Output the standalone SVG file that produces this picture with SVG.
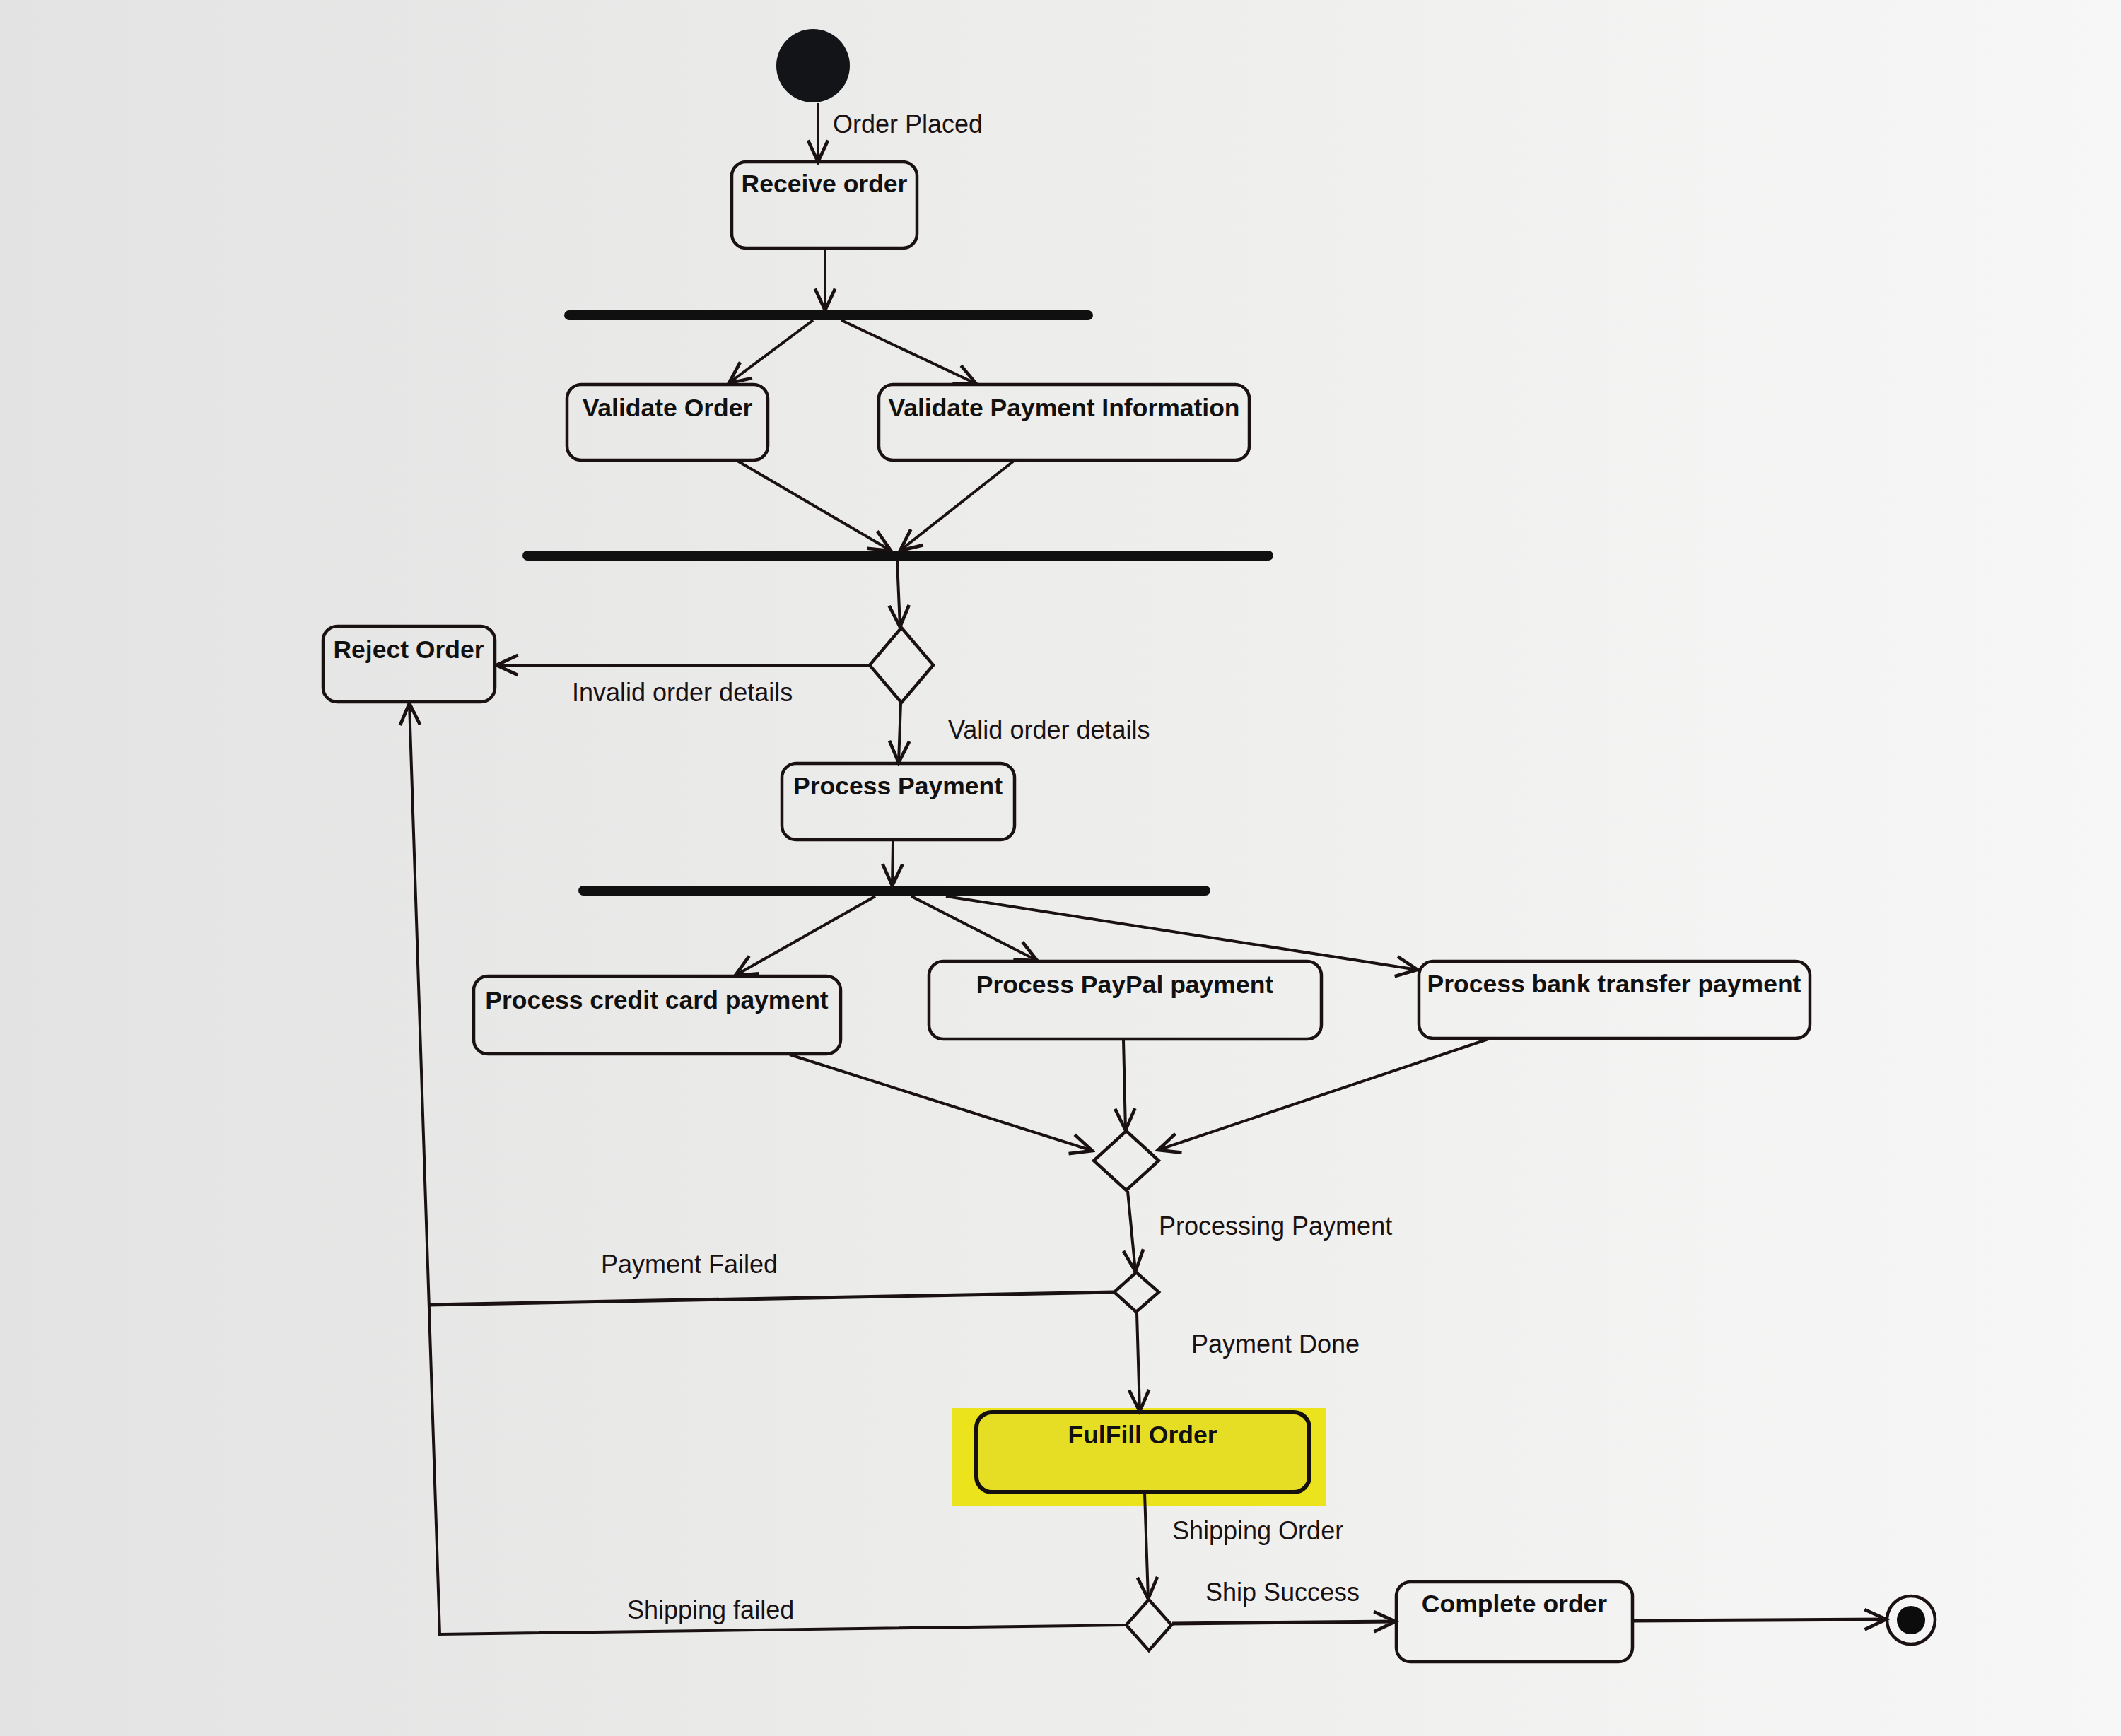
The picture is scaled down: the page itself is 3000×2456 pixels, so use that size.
<svg xmlns="http://www.w3.org/2000/svg" width="3000" height="2456" viewBox="0 0 3000 2456">
<defs>
  <linearGradient id="bg" x1="0" y1="0" x2="1" y2="0">
    <stop offset="0" stop-color="#e4e3e3"/>
    <stop offset="0.5" stop-color="#ededec"/>
    <stop offset="1" stop-color="#f7f7f7"/>
  </linearGradient>
  <marker id="arr" markerUnits="userSpaceOnUse" markerWidth="40" markerHeight="40" viewBox="-2 -2 34 34" refX="28" refY="14" orient="auto">
    <path d="M2,2 L28,14 L2,26" fill="none" stroke="#1a1212" stroke-width="4" stroke-linejoin="miter"/>
  </marker>
  <style>
    .node rect { fill: none; stroke: #1a1212; stroke-width: 4.5; }
    .title { font-family: "Liberation Sans", Arial, sans-serif; font-weight: bold; font-size: 35.5px; fill: #111; text-anchor: middle; }
    .lbl { font-family: "Liberation Sans", Arial, sans-serif; font-size: 36px; fill: #1a1212; }
    .bar { stroke: #101010; stroke-width: 14; stroke-linecap: round; }
    .edge { fill: none; stroke: #1a1212; stroke-width: 4; }
    .edge.arrow { marker-end: url(#arr); }
    .thick { stroke-width: 5; }
    .diamond { fill: none; stroke: #1a1212; stroke-width: 4.5; stroke-linejoin: miter; }
  </style>
</defs>
<rect x="0" y="0" width="3000" height="2456" fill="url(#bg)"/>

<g id="start">
  <circle cx="1150" cy="93" r="52" fill="#121418"/>
</g>

<g id="receive-order" class="node">
  <rect x="1035" y="229" width="262" height="122" rx="20"/>
  <text class="title" x="1166" y="272">Receive order</text>
</g>

<g id="fork1"><line class="bar" x1="805" y1="446" x2="1539" y2="446"/></g>

<g id="validate-order" class="node">
  <rect x="802" y="544" width="284" height="107" rx="20"/>
  <text class="title" x="944" y="589">Validate Order</text>
</g>

<g id="validate-payment" class="node">
  <rect x="1243" y="544" width="524" height="107" rx="20"/>
  <text class="title" x="1505" y="589">Validate Payment Information</text>
</g>

<g id="join1"><line class="bar" x1="746" y1="786" x2="1794" y2="786"/></g>

<g id="decision-valid">
  <polygon class="diamond" points="1275,888 1320,941 1275,994 1230,941"/>
</g>

<g id="reject-order" class="node">
  <rect x="457" y="886" width="243" height="107" rx="20"/>
  <text class="title" x="578" y="931">Reject Order</text>
</g>

<g id="process-payment" class="node">
  <rect x="1106" y="1080" width="329" height="108" rx="20"/>
  <text class="title" x="1270" y="1124">Process Payment</text>
</g>

<g id="fork2"><line class="bar" x1="825" y1="1260" x2="1705" y2="1260"/></g>

<g id="credit-card" class="node">
  <rect x="670" y="1381" width="519" height="110" rx="20"/>
  <text class="title" x="929" y="1427">Process credit card payment</text>
</g>

<g id="paypal" class="node">
  <rect x="1314" y="1360" width="555" height="110" rx="20"/>
  <text class="title" x="1591" y="1405">Process PayPal payment</text>
</g>

<g id="bank-transfer" class="node">
  <rect x="2007" y="1360" width="553" height="109" rx="20"/>
  <text class="title" x="2283" y="1404">Process bank transfer payment</text>
</g>

<g id="merge-payment">
  <polygon class="diamond" points="1593,1600 1639,1642 1593,1684 1547,1642"/>
</g>

<g id="decision-payment">
  <polygon class="diamond" points="1607,1800 1639,1828 1607,1856 1576,1828"/>
</g>

<g id="fulfill-order">
  <rect x="1346" y="1992" width="530" height="139" fill="#ebe41c"/>
  <rect x="1381" y="1998" width="471" height="113" rx="22" fill="#e6de24" stroke="#141010" stroke-width="6"/>
  <text class="title" x="1616" y="2042">FulFill Order</text>
</g>

<g id="decision-ship">
  <polygon class="diamond" points="1625,2263 1657,2299 1625,2335 1593,2299"/>
</g>

<g id="complete-order" class="node">
  <rect x="1975" y="2238" width="334" height="113" rx="20"/>
  <text class="title" x="2142" y="2281">Complete order</text>
</g>

<g id="end">
  <circle cx="2703" cy="2292" r="34" fill="none" stroke="#1a1212" stroke-width="4.5"/>
  <circle cx="2703" cy="2292" r="20" fill="#0c0c0c"/>
</g>

<g id="connectors">
  <line class="edge arrow" x1="1157" y1="146" x2="1157" y2="229"/>
  <line class="edge arrow" x1="1167" y1="352" x2="1167" y2="439"/>
  <line class="edge arrow" x1="1150" y1="453" x2="1031" y2="542"/>
  <line class="edge arrow" x1="1190" y1="453" x2="1381" y2="543"/>
  <line class="edge arrow" x1="1043" y1="652" x2="1260" y2="779"/>
  <line class="edge arrow" x1="1434" y1="652" x2="1273" y2="779"/>
  <line class="edge arrow" x1="1269" y1="793" x2="1273" y2="887"/>
  <line class="edge arrow" x1="1229" y1="941" x2="702" y2="941"/>
  <line class="edge arrow" x1="1274" y1="995" x2="1271" y2="1079"/>
  <line class="edge arrow" x1="1263" y1="1189" x2="1262" y2="1253"/>
  <line class="edge arrow" x1="1238" y1="1268" x2="1040" y2="1380"/>
  <line class="edge arrow" x1="1289" y1="1268" x2="1467" y2="1359"/>
  <line class="edge arrow" x1="1338" y1="1268" x2="2005" y2="1372"/>
  <line class="edge arrow" x1="1117" y1="1492" x2="1545" y2="1628"/>
  <line class="edge arrow" x1="1589" y1="1471" x2="1592" y2="1599"/>
  <line class="edge arrow" x1="2105" y1="1470" x2="1638" y2="1627"/>
  <line class="edge arrow" x1="1595" y1="1685" x2="1606" y2="1799"/>
  <line class="edge thick" x1="1575" y1="1828" x2="606" y2="1846"/>
  <line class="edge arrow" x1="1608" y1="1857" x2="1612" y2="1997"/>
  <line class="edge arrow" x1="1619" y1="2112" x2="1624" y2="2262"/>
  <polyline class="edge arrow" points="1592,2299 622,2312 579,995"/>
  <line class="edge arrow thick" x1="1658" y1="2297" x2="1974" y2="2294"/>
  <line class="edge arrow thick" x1="2310" y1="2293" x2="2668" y2="2291"/>
</g>

<g id="labels">
  <text class="lbl" x="1178" y="188">Order Placed</text>
  <text class="lbl" x="809" y="992">Invalid order details</text>
  <text class="lbl" x="1341" y="1045">Valid order details</text>
  <text class="lbl" x="1639" y="1747">Processing Payment</text>
  <text class="lbl" x="850" y="1801">Payment Failed</text>
  <text class="lbl" x="1685" y="1914">Payment Done</text>
  <text class="lbl" x="1658" y="2178">Shipping Order</text>
  <text class="lbl" x="1705" y="2265">Ship Success</text>
  <text class="lbl" x="887" y="2290">Shipping failed</text>
</g>
</svg>
